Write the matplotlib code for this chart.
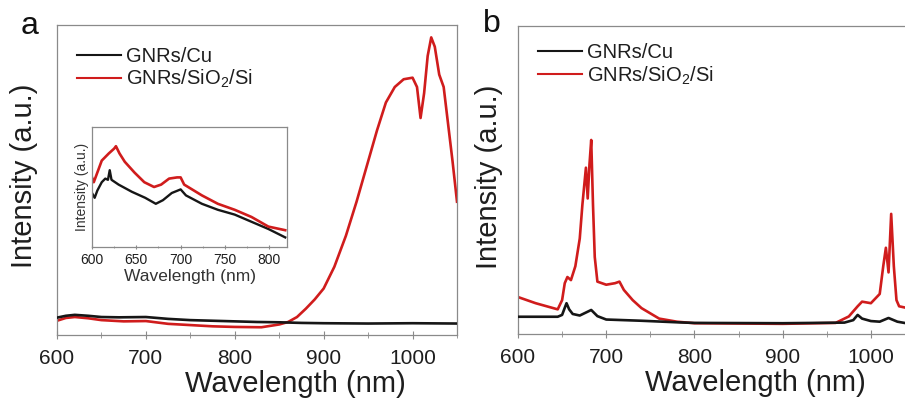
import numpy as np
import matplotlib
matplotlib.use('Agg')
import matplotlib.pyplot as plt
from matplotlib.ticker import MultipleLocator, NullLocator

plt.rcParams['font.family'] = ['Liberation Sans', 'DejaVu Sans']
plt.rcParams['mathtext.fontset'] = 'custom'
plt.rcParams['mathtext.rm'] = 'Liberation Sans'

labels = ['GNRs/Cu', r'GNRs/SiO$\mathregular{_2}$/Si']
black = '#161616'
red = '#d01c1c'

# panel a, main spectra
a_cu_wl = [600, 610, 620, 635, 650, 670, 700, 725, 750, 775, 800, 825, 850, 875, 900, 950, 1000, 1050]
a_cu_int = [0.056, 0.062, 0.065, 0.062, 0.058, 0.057, 0.058, 0.052, 0.048, 0.046, 0.044, 0.042, 0.041, 0.039, 0.038, 0.037, 0.038, 0.037]
a_si_wl = [600, 610, 620, 635, 650, 675, 700, 725, 750, 775, 800, 830, 850, 860, 870, 880, 890, 900, 912, 925,
           937, 950, 960, 970, 980, 990, 1000, 1005, 1009, 1013, 1017, 1021, 1025, 1030, 1035, 1040, 1045, 1050]
a_si_int = [0.046, 0.055, 0.058, 0.054, 0.048, 0.044, 0.045, 0.036, 0.032, 0.028, 0.026, 0.025, 0.034, 0.042, 0.058, 0.085,
            0.115, 0.15, 0.22, 0.32, 0.43, 0.56, 0.66, 0.75, 0.80, 0.825, 0.83, 0.80, 0.70, 0.78, 0.90, 0.96, 0.93, 0.84,
            0.80, 0.68, 0.56, 0.43]

# panel a, inset
in_cu_wl = [600, 603, 606, 611, 615, 618, 620, 622, 630, 645, 660, 672, 680, 690, 700, 706, 724, 742, 761, 780, 799, 818]
in_cu_int = [0.45, 0.41, 0.47, 0.54, 0.57, 0.56, 0.64, 0.56, 0.52, 0.46, 0.41, 0.36, 0.39, 0.45, 0.48, 0.43, 0.36,
             0.31, 0.27, 0.21, 0.15, 0.08]
in_si_wl = [600, 602, 606, 611, 619, 625, 627, 631, 637, 648, 659, 670, 678, 687, 696, 700, 704, 724, 742, 761, 780, 799, 818]
in_si_int = [0.58, 0.54, 0.62, 0.72, 0.78, 0.82, 0.84, 0.78, 0.71, 0.62, 0.54, 0.50, 0.52, 0.57, 0.58, 0.58, 0.52,
             0.43, 0.36, 0.31, 0.25, 0.17, 0.14]

# panel b
b_cu_wl = [600, 620, 645, 650, 653, 655, 658, 662, 670, 683, 690, 700, 740, 780, 800, 900, 970, 980, 985, 990,
           1000, 1010, 1020, 1030, 1040, 1050]
b_cu_int = [0.056, 0.056, 0.056, 0.062, 0.085, 0.10, 0.08, 0.065, 0.06, 0.078, 0.058, 0.047, 0.043, 0.038, 0.036,
            0.035, 0.037, 0.045, 0.062, 0.05, 0.042, 0.04, 0.052, 0.04, 0.035, 0.035]
b_si_wl = [600, 620, 645, 650, 653, 656, 660, 665, 670, 673, 675, 677, 679, 681, 683, 685, 687, 690, 700, 710, 715,
           720, 730, 740, 760, 780, 800, 900, 960, 975, 985, 990, 1000, 1010, 1014, 1017, 1020, 1023, 1026, 1029,
           1032, 1040, 1050]
b_si_int = [0.12, 0.10, 0.08, 0.11, 0.165, 0.185, 0.175, 0.22, 0.31, 0.42, 0.48, 0.54, 0.44, 0.55, 0.63, 0.42, 0.25,
            0.17, 0.16, 0.165, 0.17, 0.143, 0.11, 0.084, 0.05, 0.04, 0.035, 0.033, 0.036, 0.057, 0.09, 0.105, 0.10,
            0.13, 0.22, 0.28, 0.20, 0.39, 0.22, 0.11, 0.09, 0.085, 0.085]

fig = plt.figure(figsize=(9.05, 4.11), dpi=100)
ax_a = fig.add_axes([57 / 905, 76 / 411, 400 / 905, 310 / 411])
ax_b = fig.add_axes([518 / 905, 77 / 411, 397 / 905, 308 / 411])
ax_in = fig.add_axes([92 / 905, 164 / 411, 195 / 905, 120 / 411])

for ax in (ax_a, ax_b, ax_in):
    for s in ax.spines.values():
        s.set_color('#8a8a8a')
        s.set_linewidth(0.9)
    ax.yaxis.set_major_locator(NullLocator())
    ax.tick_params(axis='x', which='both', direction='inout', color='#8a8a8a', labelcolor='#1e1e1e')

for ax, cu_wl, cu_int, si_wl, si_int in [(ax_a, a_cu_wl, a_cu_int, a_si_wl, a_si_int),
                                         (ax_b, b_cu_wl, b_cu_int, b_si_wl, b_si_int)]:
    ax.plot(cu_wl, cu_int, color=black, lw=1.9, label=labels[0], zorder=3)
    ax.plot(si_wl, si_int, color=red, lw=1.9, label=labels[1], zorder=2)
    ax.set_xlim(600, 1050)
    ax.set_ylim(0, 1)
    ax.xaxis.set_major_locator(MultipleLocator(100))
    ax.xaxis.set_minor_locator(MultipleLocator(50))
    ax.tick_params(axis='x', which='major', labelsize=15, length=6, pad=7)
    ax.tick_params(axis='x', which='minor', length=4)
    ax.set_xlabel('Wavelength (nm)', fontsize=21, color='#1e1e1e', va='center')
    ax.set_ylabel('Intensity (a.u.)', fontsize=21, color='#1e1e1e', va='center')
    leg = ax.legend(loc='upper left', frameon=False, fontsize=14.5, borderpad=0, borderaxespad=0,
                    handlelength=2.2, handletextpad=0.25, labelspacing=0.12)
    for t in leg.get_texts():
        t.set_color('#1e1e1e')
    for h in leg.get_lines():
        h.set_linewidth(1.5)

ax_a.xaxis.set_label_coords(0.595, -0.158)
ax_a.yaxis.set_label_coords(-0.0825, 0.513)
ax_a.get_legend().set_bbox_to_anchor((0.05, 0.93), transform=ax_a.transAxes)
ax_b.xaxis.set_label_coords(0.597, -0.16)
ax_b.yaxis.set_label_coords(-0.073, 0.51)
ax_b.get_legend().set_bbox_to_anchor((0.05, 0.945), transform=ax_b.transAxes)

# inset of panel a
ax_in.plot(in_cu_wl, in_cu_int, color=black, lw=1.7)
ax_in.plot(in_si_wl, in_si_int, color=red, lw=1.9)
ax_in.set_xlim(600, 820)
ax_in.set_ylim(0, 1)
ax_in.xaxis.set_major_locator(MultipleLocator(50))
ax_in.xaxis.set_minor_locator(MultipleLocator(25))
ax_in.tick_params(axis='x', which='major', labelsize=10, length=3, pad=3)
ax_in.tick_params(axis='x', which='minor', length=2)
ax_in.set_xlabel('Wavelength (nm)', fontsize=12.5, color='#333333', labelpad=1)
ax_in.set_ylabel('Intensity (a.u.)', fontsize=10, color='#333333', labelpad=2)

fig.text(30 / 905, 1 - 26 / 411, 'a', fontsize=23, ha='center', va='center', color='#111111')
fig.text(492 / 905, 1 - 24 / 411, 'b', fontsize=23, ha='center', va='center', color='#111111')

fig.savefig('out.png', dpi=100)
